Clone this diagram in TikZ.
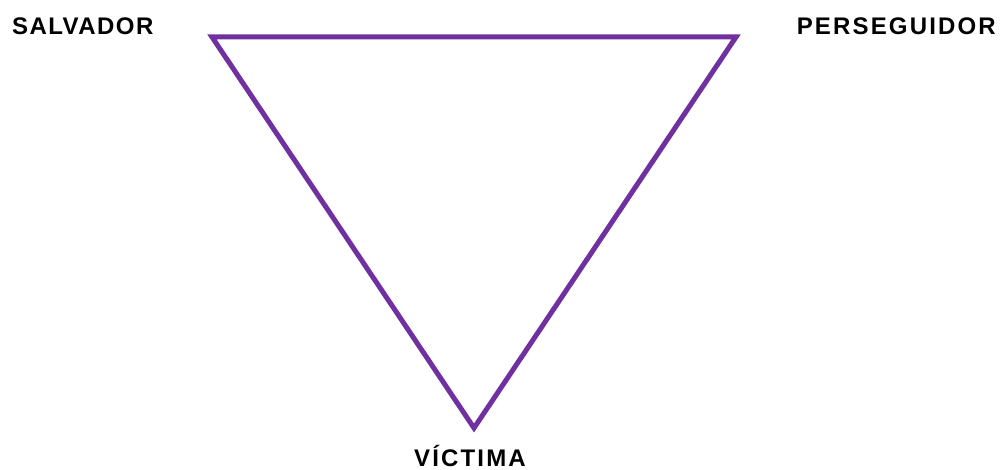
\documentclass[tikz,border=0pt]{standalone}
\usepackage{fontspec}
\setmainfont{Liberation Sans}[LetterSpace=6]
\newfontfamily\widefont{Liberation Sans}[LetterSpace=9]
\definecolor{tri}{HTML}{7030A0}
\begin{document}
\begin{tikzpicture}[x=1pt,y=-1pt,
  lbl/.style={font=\fontsize{24}{28}\selectfont\bfseries, inner sep=0pt, text=black},
  wlbl/.style={font=\fontsize{24}{28}\selectfont\widefont\bfseries, inner sep=0pt, text=black},
  edge/.style={draw=tri, line width=5pt, line join=miter}]
\useasboundingbox (0,0) rectangle (1000,470);
\coordinate (s) at (212,37);
\coordinate (p) at (736,37);
\coordinate (v) at (474,428);
\draw[edge] (s) -- (p) -- (v) -- cycle;
\node[lbl, anchor=base west] (ls) at (12,35) {SALVADOR};
\node[wlbl, anchor=base east] (lp) at (996,35) {PERSEGUIDOR};
\node[wlbl, anchor=base] (lv) at (470,466) {VÍCTIMA};
\end{tikzpicture}
\end{document}
